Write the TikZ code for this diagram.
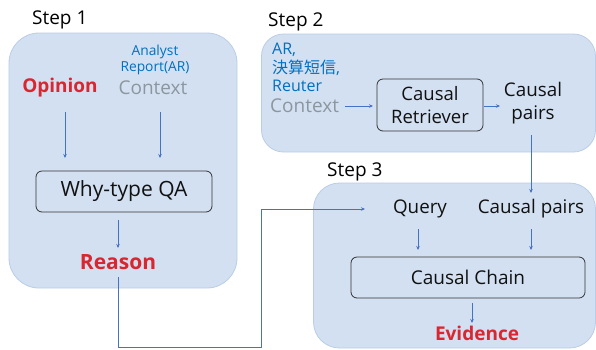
\documentclass[tikz,border=0pt]{standalone}
\usepackage{fontspec}
\setmainfont{Open Sans}
\newfontfamily\cjk{Noto Sans CJK JP}
\usetikzlibrary{arrows.meta}
\definecolor{panelfill}{HTML}{D2E0F1}
\definecolor{paneledge}{HTML}{BACDE6}
\definecolor{arrowblue}{HTML}{4472C4}
\definecolor{redtxt}{HTML}{D9262F}
\definecolor{bluetxt}{HTML}{0070C0}
\definecolor{graytxt}{HTML}{8C969E}
\definecolor{darktxt}{HTML}{111111}
\tikzset{
  panel/.style={draw=paneledge, fill=panelfill, line width=0.8pt, inner sep=0pt},
  procbox/.style={draw=black!80, rounded corners=6pt, line width=0.8pt, inner sep=0pt, text=darktxt},
  steplabel/.style={font=\fontsize{19}{22}\selectfont, text=black, inner sep=0pt},
  redlbl/.style={font=\fontsize{19}{22}\selectfont\bfseries, text=redtxt, inner sep=0pt},
  graylbl/.style={font=\fontsize{19}{22}\selectfont, text=graytxt, inner sep=0pt},
  blacklbl/.style={font=\fontsize{18.8}{23}\selectfont, text=darktxt, inner sep=0pt, align=center},
  flow/.style={draw=arrowblue, line width=0.8pt, -{Stealth[length=4pt,width=3.5pt]}},
  flowline/.style={draw=arrowblue, line width=0.8pt}
}
\begin{document}
\begin{tikzpicture}[x=1pt,y=-1pt]
\useasboundingbox (0,0) rectangle (596,349);
% panels
\node[panel, rounded corners=30pt, minimum width=228pt, minimum height=255pt] (p1) at (123,160.5) {};
\node[panel, rounded corners=22pt, minimum width=334pt, minimum height=118pt] (p2) at (428.5,93) {};
\node[panel, rounded corners=26pt, minimum width=282pt, minimum height=165pt] (p3) at (454.5,265.5) {};
% step labels
\node[steplabel, anchor=west] (st1) at (32,20) {Step 1};
\node[steplabel, anchor=west] (st2) at (268,22) {Step 2};
\node[steplabel, anchor=west] (st3) at (327,172) {Step 3};
% step 1
\node[font=\fontsize{13.8}{16}\selectfont, text=bluetxt, align=center, inner sep=0pt] (ar1) at (155,60) {Analyst\\Report(AR)};
\node[redlbl] (opinion) at (60,88) {Opinion};
\node[graylbl] (ctx1) at (153,88) {Context};
\node[procbox, minimum width=176pt, minimum height=41pt, font=\fontsize{21}{24}\selectfont] (why) at (124,191.5) {Why-type QA};
\node[redlbl, font=\fontsize{21}{24}\selectfont\bfseries] (reason) at (118,262) {Reason};
% step 2
\node[font=\fontsize{16}{18.5}\selectfont, text=bluetxt, align=left, anchor=north west, inner sep=0pt] (src2) at (272,43) {AR,\\{\cjk 決算短信},\\Reuter};
\node[graylbl, anchor=west] (ctx2) at (270,106) {Context};
\node[procbox, minimum width=106pt, minimum height=52pt, font=\fontsize{18.5}{23}\selectfont, align=center] (retr) at (430,105) {Causal\\Retriever};
\node[blacklbl] (pairs2) at (533,103) {Causal\\pairs};
% step 3
\node[blacklbl] (query) at (420,209) {Query};
\node[blacklbl] (pairs3) at (531,209) {Causal pairs};
\node[procbox, minimum width=234pt, minimum height=41pt, font=\fontsize{19}{22}\selectfont] (chain) at (468,277.5) {Causal Chain};
\node[redlbl] (evid) at (477,333) {Evidence};
% connector end points
\coordinate (a1s) at (65,112); \coordinate (a1e) at (65,158);
\coordinate (a2s) at (160,112); \coordinate (a2e) at (160,158);
\coordinate (a3s) at (118,220); \coordinate (a3e) at (118,248);
\coordinate (r0) at (118,277); \coordinate (r1) at (118,347); \coordinate (r2) at (261,347); \coordinate (r3) at (261,209); \coordinate (r4) at (365,209);
\coordinate (c2s) at (345,106); \coordinate (c2e) at (373,106);
\coordinate (c3s) at (484,106); \coordinate (c3e) at (500,106);
\coordinate (p2s) at (531,135); \coordinate (p2e) at (531,193);
\coordinate (qs) at (418,229); \coordinate (qe) at (418,250);
\coordinate (cs) at (531,229); \coordinate (ce) at (531,250);
\coordinate (es) at (472,303); \coordinate (ee) at (472,323);
% connectors
\draw[flow] (a1s) -- (a1e);
\draw[flow] (a2s) -- (a2e);
\draw[flow] (a3s) -- (a3e);
\draw[flow] (r0) -- (r1) -- (r2) -- (r3) -- (r4);
\draw[flow] (c2s) -- (c2e);
\draw[flow] (c3s) -- (c3e);
\draw[flow] (p2s) -- (p2e);
\draw[flow] (qs) -- (qe);
\draw[flow] (cs) -- (ce);
\draw[flow] (es) -- (ee);
\end{tikzpicture}
\end{document}
